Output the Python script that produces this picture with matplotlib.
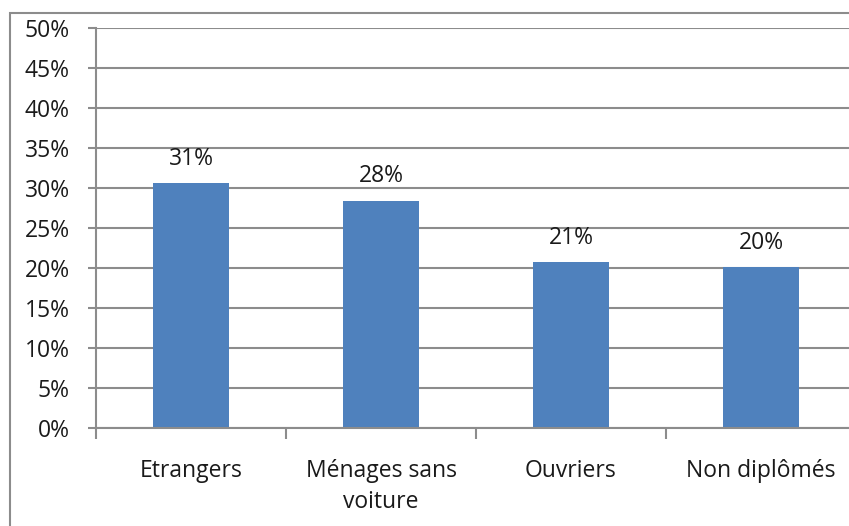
import matplotlib
matplotlib.use("Agg")
import matplotlib.pyplot as plt
from matplotlib.patches import Rectangle
from matplotlib.ticker import FixedLocator, NullFormatter

categories = ["Etrangers", "Ménages sans\nvoiture", "Ouvriers", "Non diplômés"]
values = [30.6, 28.4, 20.75, 20.1]
labels = ["31%", "28%", "21%", "20%"]
yticks = [0, 5, 10, 15, 20, 25, 30, 35, 40, 45, 50]
ytick_labels = [f"{v}%" for v in yticks]

plt.rcParams['font.family'] = ['Open Sans', 'DejaVu Sans']
W, H = 849, 526
fig = plt.figure(figsize=(W/100, H/100), dpi=100)

# outer chart frame (extends beyond right/bottom edges)
fig.patches.append(Rectangle((9.5/W, -0.1), 1.2, 1 - 12.5/H + 0.1, transform=fig.transFigure,
                             fill=False, edgecolor="#8c8c8c", linewidth=1.5))

x0, x1 = 96, 856
y0, y1 = 428, 28
ax = fig.add_axes([x0/W, 1 - y0/H, (x1-x0)/W, (y0-y1)/H])
ax.set_xlim(-0.5, 3.5)
ax.set_ylim(0, 50)

fs = 16.5
pos = list(range(len(categories)))
ax.bar(pos, values, width=0.405, color="#4F81BD", zorder=3)
for p, v, l in zip(pos, values, labels):
    ax.annotate(l, (p, v), xytext=(0, 9), textcoords="offset points",
                ha="center", va="bottom", fontsize=fs, color="#1a1a1a")

ax.set_yticks(yticks)
ax.set_yticklabels(ytick_labels, fontsize=fs, color="#1a1a1a")
ax.tick_params(axis="y", length=6, width=1.5, color="#8c8c8c", pad=13)
ax.yaxis.grid(True, color="#8c8c8c", linewidth=1.5, zorder=0)

ax.set_xticks(pos)
ax.set_xticklabels(categories, fontsize=fs, color="#1a1a1a", linespacing=1.4)
ax.tick_params(axis="x", length=0, pad=22)
ax.xaxis.set_minor_locator(FixedLocator([-0.5, 0.5, 1.5, 2.5, 3.5]))
ax.xaxis.set_minor_formatter(NullFormatter())
ax.tick_params(axis="x", which="minor", length=8, width=1.5, color="#8c8c8c")

for s in ["top", "right"]:
    ax.spines[s].set_visible(False)
for s in ["left", "bottom"]:
    ax.spines[s].set_color("#8c8c8c")
    ax.spines[s].set_linewidth(1.5)
    ax.spines[s].set_zorder(4)

fig.savefig("out.png", dpi=100)
